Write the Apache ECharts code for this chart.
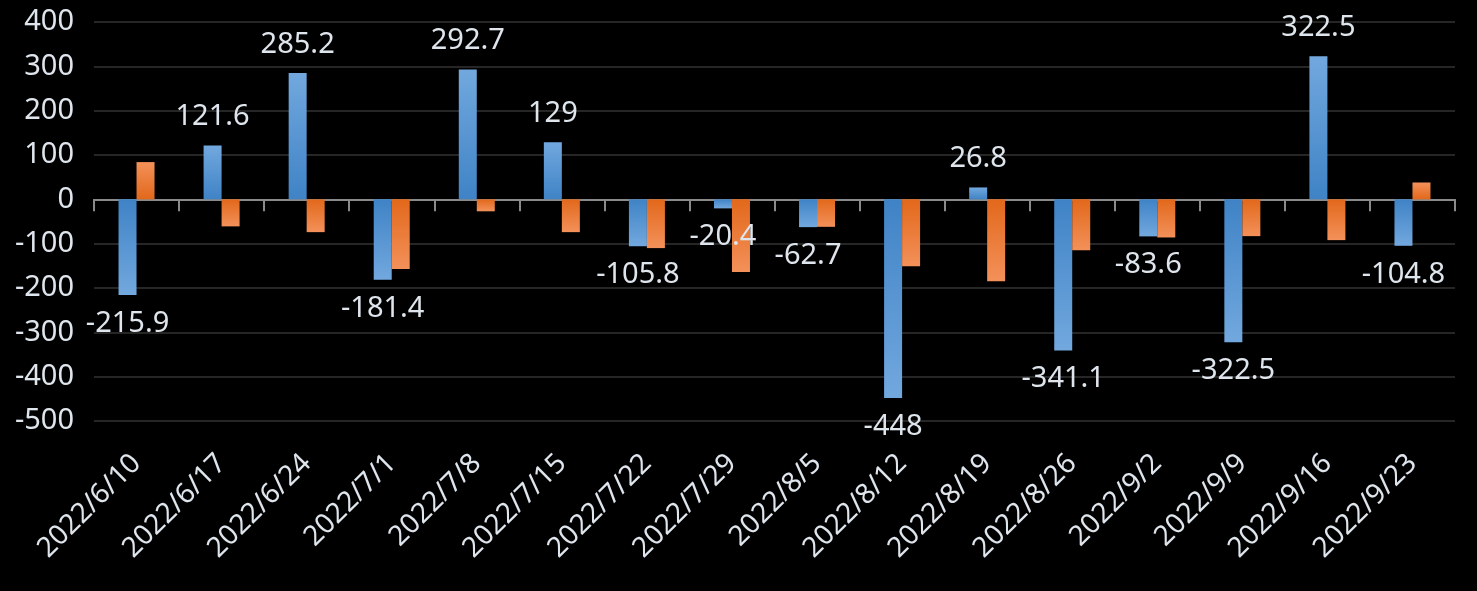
<!DOCTYPE html>
<html>
<head>
<meta charset="utf-8">
<script src="https://cdn.jsdelivr.net/npm/echarts@6/dist/echarts.min.js"></script>
<style>
html,body{margin:0;padding:0;background:#000;}
#c{width:1477px;height:591px;}
</style>
</head>
<body>
<div id="c"></div>
<script>
var categories = ['2022/6/10','2022/6/17','2022/6/24','2022/7/1','2022/7/8','2022/7/15','2022/7/22','2022/7/29','2022/8/5','2022/8/12','2022/8/19','2022/8/26','2022/9/2','2022/9/9','2022/9/16','2022/9/23'];
var blueValues = [-215.9, 121.6, 285.2, -181.4, 292.7, 129, -105.8, -20.4, -62.7, -448, 26.8, -341.1, -83.6, -322.5, 322.5, -104.8];
var orangeValues = [84, -61, -74, -157, -27, -74, -110, -164, -62, -151, -185, -115, -86, -83, -92, 38];
var yTicks = {min: -500, max: 400, interval: 100};

var textColor = '#dfe5ec';
var font = '"Noto Sans", sans-serif';

function grad(top, bottom, negative) {
  var a = negative ? bottom : top, b = negative ? top : bottom;
  return new echarts.graphic.LinearGradient(0, 0, 0, 1, [
    {offset: 0, color: a}, {offset: 1, color: b}
  ]);
}

function barData(values, top, bottom, withLabel) {
  return values.map(function (v) {
    var item = {value: v, itemStyle: {color: grad(top, bottom, v < 0)}};
    if (withLabel) item.label = {position: v < 0 ? 'bottom' : 'top'};
    return item;
  });
}

var chart = echarts.init(document.getElementById('c'));
chart.setOption({
  backgroundColor: '#000',
  animation: false,
  grid: {left: 94, right: 22, top: 22, bottom: 170, containLabel: false, outerBoundsMode: 'none'},
  xAxis: [
    {
      type: 'category',
      data: categories,
      position: 'bottom',
      axisLine: {show: false, onZero: false},
      axisTick: {show: false},
      axisLabel: {
        rotate: 45, margin: 38, color: textColor, fontSize: 28, fontFamily: font, interval: 0
      },
      splitLine: {show: false}
    },
    {
      type: 'category',
      data: categories,
      position: 'top',
      axisLine: {show: true, onZero: true, lineStyle: {color: '#8a8a8a', width: 2}},
      axisTick: {show: true, inside: true, length: 12, lineStyle: {color: '#8a8a8a', width: 2}},
      axisLabel: {show: false},
      splitLine: {show: false}
    }
  ],
  yAxis: {
    type: 'value',
    min: yTicks.min, max: yTicks.max, interval: yTicks.interval,
    axisLine: {show: false},
    axisTick: {show: false},
    axisLabel: {color: textColor, fontSize: 29, fontFamily: font, margin: 20, showMinLabel: true, showMaxLabel: true},
    splitLine: {lineStyle: {color: '#262626', width: 2}}
  },
  series: [
    {
      type: 'bar',
      barWidth: 18,
      barGap: '0%',
      label: {
        show: true, color: textColor, fontSize: 29, fontFamily: font, distance: 14
      },
      data: barData(blueValues, '#72a8de', '#3f83c6', true)
    },
    {
      type: 'bar',
      barWidth: 18,
      barGap: '0%',
      data: barData(orangeValues, '#f3915a', '#e2681b', false)
    }
  ]
});
</script>
</body>
</html>
